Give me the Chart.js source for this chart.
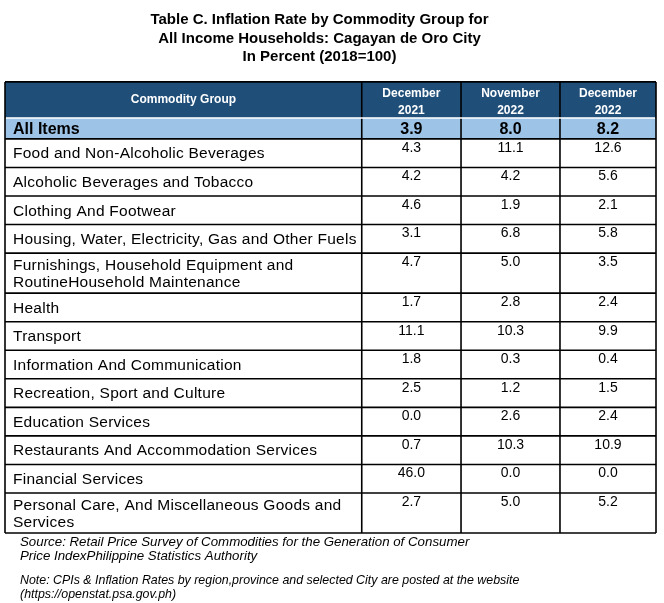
<!DOCTYPE html>
<html>
<head>
<meta charset="utf-8">
<script src="https://cdn.jsdelivr.net/npm/chart.js@4.4.1/dist/chart.umd.min.js"></script>
<style>
  html, body { margin: 0; padding: 0; background: #ffffff; }
  #caixa { width: 664px; height: 603px; position: relative; }
</style>
</head>
<body>
<div id="caixa"><canvas id="tabela"></canvas></div>
<script>
// dados da tabela
const titulo = ['Table C. Inflation Rate by Commodity Group for', 'All Income Households: Cagayan de Oro City', 'In Percent (2018=100)'];
const cabecalho = ['Commodity Group', 'December\n2021', 'November\n2022', 'December\n2022'];
const totalNome = 'All Items';
const totalValores = [3.9, 8.0, 8.2];
const grupos = [
  'Food and Non-Alcoholic Beverages',
  'Alcoholic Beverages and Tobacco',
  'Clothing And Footwear',
  'Housing, Water, Electricity, Gas and Other Fuels',
  'Furnishings, Household Equipment and\nRoutineHousehold Maintenance',
  'Health',
  'Transport',
  'Information And Communication',
  'Recreation, Sport and Culture',
  'Education Services',
  'Restaurants And Accommodation Services',
  'Financial Services',
  'Personal Care, And Miscellaneous Goods and\nServices'
];
const dez2021 = [4.3, 4.2, 4.6, 3.1, 4.7, 1.7, 11.1, 1.8, 2.5, 0.0, 0.7, 46.0, 2.7];
const nov2022 = [11.1, 4.2, 1.9, 6.8, 5.0, 2.8, 10.3, 0.3, 1.2, 2.6, 10.3, 0.0, 5.0];
const dez2022 = [12.6, 5.6, 2.1, 5.8, 3.5, 2.4, 9.9, 0.4, 1.5, 2.4, 10.9, 0.0, 5.2];
const fonteTexto = [
  'Source: Retail Price Survey of Commodities for the Generation of Consumer',
  'Price IndexPhilippine Statistics Authority'
];
const notaTexto = [
  'Note: CPIs & Inflation Rates by region,province and selected City are posted at the website',
  '(https://openstat.psa.gov.ph)'
];

// layout (unidades das escalas)
const bordasX = [0, 54.8, 70.05, 85.25, 100];
const ALT_CAB = 36, ALT_TOTAL = 21, ALT_SIMPLES = 28.55, ALT_DUPLA = 40;
const FONTE = "'Liberation Sans', Arial, sans-serif";
const DESLOC_TITULO = -11; // o titulo original nao fica centrado na tabela

//monta as linhas com topo e base em unidades de y
const linhas = [];
let acum = 0;
linhas.push({tipo: 'cab', topo: acum, base: acum + ALT_CAB}); acum += ALT_CAB;
linhas.push({tipo: 'total', topo: acum, base: acum + ALT_TOTAL, nome: totalNome, valores: totalValores}); acum += ALT_TOTAL;
for (let i = 0; i < grupos.length; i++) {
  const h = grupos[i].includes('\n') ? ALT_DUPLA : ALT_SIMPLES;
  linhas.push({tipo: 'item', topo: acum, base: acum + h, nome: grupos[i], valores: [dez2021[i], nov2022[i], dez2022[i]]});
  acum += h;
}
const alturaTotal = acum;

const desenhaTabela = {
  id: 'desenhaTabela',
  beforeDraw(chart) {
    chart.ctx.save();
    chart.ctx.translate(DESLOC_TITULO, 0);
  },
  beforeDatasetsDraw(chart) {
    chart.ctx.restore();
  },
  afterDraw(chart) {
    const ctx = chart.ctx;
    const sx = chart.scales.x, sy = chart.scales.y;
    const X = bordasX.map(v => sx.getPixelForValue(v));
    const Y = v => sy.getPixelForValue(v);
    ctx.save();

    // fundos
    linhas.forEach(l => {
      ctx.fillStyle = l.tipo == 'cab' ? '#1f4e79' : (l.tipo == 'total' ? '#9dc3e6' : '#ffffff');
      ctx.fillRect(X[0], Y(l.topo), X[4] - X[0], Y(l.base) - Y(l.topo));
    });

    // linhas da grade
    ctx.strokeStyle = '#000000';
    ctx.lineWidth = 1.6;
    linhas.forEach((l, i) => {
      if (i == 0) return;
      ctx.beginPath();
      ctx.moveTo(X[0], Y(l.base)); ctx.lineTo(X[4], Y(l.base));
      ctx.stroke();
    });
    X.forEach(x => {
      ctx.beginPath();
      ctx.moveTo(x, Y(0)); ctx.lineTo(x, Y(alturaTotal));
      ctx.stroke();
    });
    ctx.beginPath();
    ctx.moveTo(X[0], Y(0)); ctx.lineTo(X[4], Y(0));
    ctx.stroke();
    // linha branca entre cabecalho e total
    ctx.strokeStyle = '#ffffff';
    ctx.lineWidth = 1.5;
    ctx.beginPath();
    ctx.moveTo(X[0] + 1, Y(ALT_CAB)); ctx.lineTo(X[4] - 1, Y(ALT_CAB));
    ctx.stroke();

    // textos
    linhas.forEach(l => {
      const topo = Y(l.topo), base = Y(l.base), meio = (topo + base) / 2;
      if (l.tipo == 'cab') {
        ctx.fillStyle = '#ffffff';
        ctx.font = 'bold 12px ' + FONTE;
        ctx.textAlign = 'center';
        ctx.textBaseline = 'middle';
        cabecalho.forEach((t, c) => {
          const cx = (X[c] + X[c + 1]) / 2;
          const partes = t.split('\n');
          if (partes.length == 1) ctx.fillText(t, cx, meio);
          else {
            ctx.fillText(partes[0], cx, topo + 12);
            ctx.fillText(partes[1], cx, topo + 29);
          }
        });
        return;
      }
      const total = l.tipo == 'total';
      ctx.fillStyle = '#000000';
      ctx.textBaseline = 'middle';
      ctx.textAlign = 'left';
      ctx.font = (total ? 'bold 16px ' : '15.5px ') + FONTE;
      ctx.letterSpacing = total ? '0px' : '0.25px';
      const partes = l.nome.split('\n');
      const passo = 17.5;
      partes.forEach((p, k) => {
        ctx.fillText(p, X[0] + 8, meio + (k - (partes.length - 1) / 2) * passo + 1);
      });
      ctx.letterSpacing = '0px';
      ctx.textAlign = 'center';
      ctx.font = (total ? 'bold 16px ' : '14px ') + FONTE;
      l.valores.forEach((v, c) => {
        const cx = (X[c + 1] + X[c + 2]) / 2;
        const y = total ? meio + 1 : topo + 9;
        ctx.fillText(v.toFixed(1), cx, y);
      });
    });

    // rodape
    ctx.fillStyle = '#000000';
    ctx.textAlign = 'left';
    ctx.textBaseline = 'middle';
    const fundo = Y(alturaTotal);
    ctx.font = 'italic 13.3px ' + FONTE;
    ctx.fillText(fonteTexto[0], 20, fundo + 9);
    ctx.fillText(fonteTexto[1], 20, fundo + 23);
    ctx.font = 'italic 12.4px ' + FONTE;
    ctx.fillText(notaTexto[0], 20, fundo + 48);
    ctx.fillText(notaTexto[1], 20, fundo + 62);
    ctx.restore();
  }
};

const ctx = document.getElementById('tabela');
new Chart(ctx, {
  type: 'scatter',
  data: { datasets: [] },
  options: {
    responsive: true,
    maintainAspectRatio: false,
    animation: false,
    events: [],
    layout: { padding: { left: 5, right: 8, top: 0, bottom: 70 } },
    scales: {
      x: { type: 'linear', min: 0, max: 100, display: false },
      y: { type: 'linear', min: 0, max: alturaTotal, reverse: true, display: false }
    },
    plugins: {
      legend: { display: false },
      tooltip: { enabled: false },
      title: {
        display: true,
        text: titulo,
        color: '#000000',
        font: { family: FONTE, size: 15, weight: 'bold', lineHeight: 1.22 },
        padding: { top: 11, bottom: 16 }
      }
    }
  },
  plugins: [desenhaTabela]
});
</script>
</body>
</html>
